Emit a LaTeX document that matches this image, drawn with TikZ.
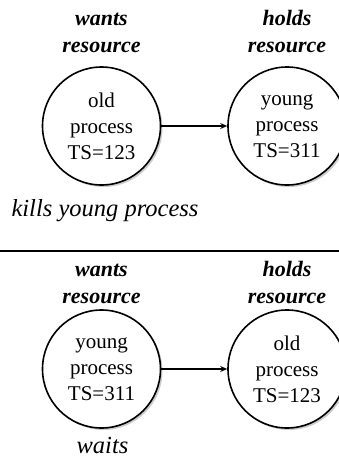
\documentclass[tikz,border=0pt]{standalone}
\usepackage{fontspec}
\setmainfont{Liberation Serif}
\usetikzlibrary{arrows.meta,shadows}

\tikzset{
  proc/.style={circle,draw,line width=1.6pt,fill=white,minimum size=118pt,inner sep=0pt,
    align=center,font=\fontsize{21}{26}\selectfont,
    drop shadow={shadow xshift=2pt,shadow yshift=-2pt,fill=gray!80}},
  role/.style={align=center,inner sep=0pt,anchor=south,font=\fontsize{22}{27}\selectfont\bfseries\itshape},
  outcome/.style={inner sep=0pt,anchor=base,font=\fontsize{24.5}{28}\selectfont\itshape},
}

\begin{document}
\begin{tikzpicture}[x=1pt,y=-1pt]
                \useasboundingbox (0,0) rectangle (339,456);
                \clip (0,0) rectangle (339,456);

                % wound-wait: old process wants the resource
                \node[role] (wantsA) at (101.5, 53) {wants\\resource};
                \node[role] (holdsA) at (287, 53) {holds\\resource};
                \node[proc] (oldA) at (101.5, 126) {old\\process\\TS=123};
                \node[proc] (youngA) at (287, 126) {young\\process\\TS=311};
                \draw[line width=1.2pt,-{Stealth[length=7pt,width=6pt]}] (oldA) -- (youngA);
                \node[outcome] (killsA) at (105, 216) {kills young process};

                \coordinate (sepL) at (0, 251);
                \coordinate (sepR) at (339, 251);
                \draw[line width=2.5pt] (sepL) -- (sepR);

                % young process wants the resource
                \node[role] (wantsB) at (101.5, 304) {wants\\resource};
                \node[role] (holdsB) at (287, 304) {holds\\resource};
                \node[proc] (youngB) at (101.5, 369) {young\\process\\TS=311};
                \node[proc] (oldB) at (287, 369) {old\\process\\TS=123};
                \draw[line width=1.2pt,-{Stealth[length=7pt,width=6pt]}] (youngB) -- (oldB);
                \node[outcome] (waitsB) at (102.5, 453) {waits};

            \end{tikzpicture}
\end{document}
